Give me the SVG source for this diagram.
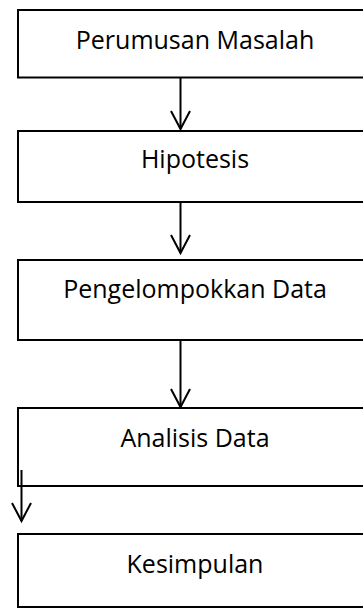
<svg xmlns="http://www.w3.org/2000/svg" width="363" height="608" viewBox="0 0 363 608">
<style>
.box{fill:#fff;stroke:#000;stroke-width:2}
.lbl{font-family:"Open Sans","Liberation Sans",sans-serif;font-size:25px;fill:#000;text-anchor:middle}
.con line{stroke:#000;stroke-width:2}
.con path{fill:none;stroke:#000;stroke-width:2}
</style>
<rect width="363" height="608" fill="#fff"/>
<g id="n1"><rect class="box" x="18" y="10" width="360" height="67.5"/><text class="lbl" x="195" y="49">Perumusan Masalah</text></g>
<g id="n2"><rect class="box" x="18" y="131" width="360" height="71"/><text class="lbl" x="195" y="168">Hipotesis</text></g>
<g id="n3"><rect class="box" x="18" y="260" width="360" height="80"/><text class="lbl" x="195" y="298">Pengelompokkan Data</text></g>
<g id="n4"><rect class="box" x="18" y="408" width="360" height="78"/><text class="lbl" x="195" y="447">Analisis Data</text></g>
<g id="n5"><rect class="box" x="18" y="534" width="360" height="73"/><text class="lbl" x="195" y="573">Kesimpulan</text></g>
<g id="connectors" class="con">
<line x1="180.5" y1="77.5" x2="180.5" y2="129"/><path d="M171,111 L180.5,129 L190,111"/>
<line x1="180.5" y1="202" x2="180.5" y2="253"/><path d="M171,235 L180.5,253 L190,235"/>
<line x1="180.5" y1="340" x2="180.5" y2="407"/><path d="M171,389 L180.5,407 L190,389"/>
<line x1="21.5" y1="470" x2="21.5" y2="521"/><path d="M12,503 L21.5,521 L31,503"/>
</g>
</svg>
